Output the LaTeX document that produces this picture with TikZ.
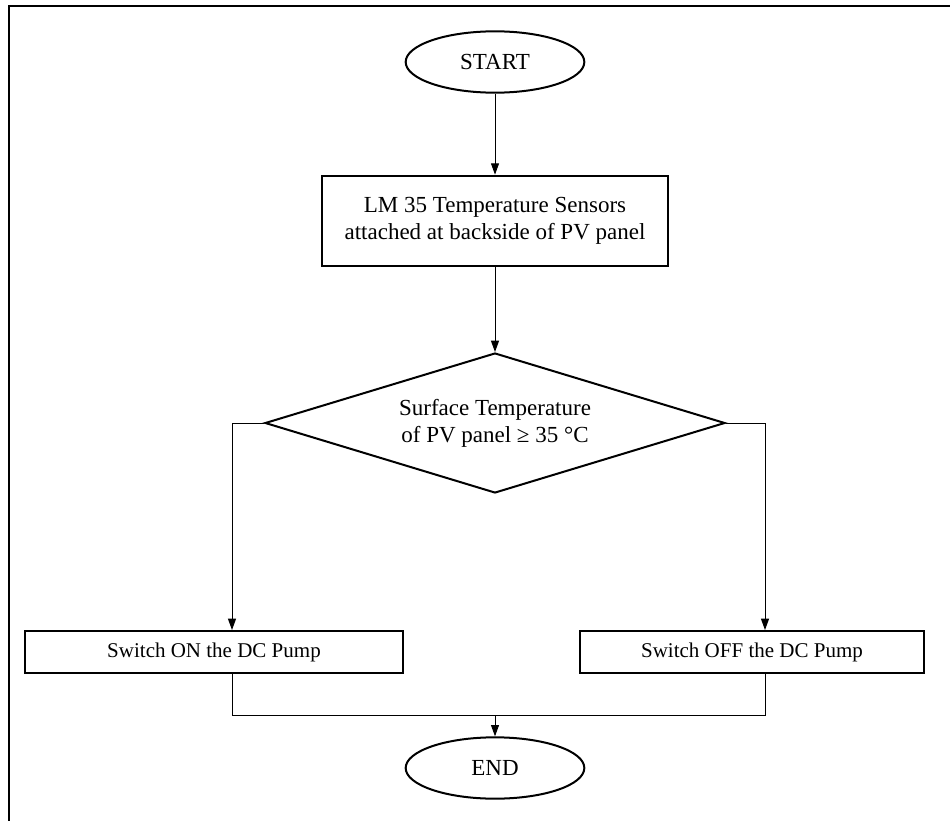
\documentclass[tikz,border=0pt]{standalone}
\usepackage{fontspec}
\setmainfont{Liberation Serif}
\usetikzlibrary{shapes.geometric, arrows.meta, positioning}

\tikzset{
  term/.style={ellipse, draw, line width=1.5pt, minimum width=134pt, minimum height=46pt, inner sep=0pt},
  procbox/.style={rectangle, draw, line width=1.5pt, inner sep=0pt, align=center},
  pumpbox/.style={procbox, minimum height=31.5pt, font=\fontsize{15.75}{19}\selectfont},
  decide/.style={diamond, draw, line width=1.5pt, aspect=3.3, inner sep=0pt, minimum width=345pt, minimum height=105pt, align=center},
  flow/.style={line width=0.75pt, -{Triangle[length=8.5pt,width=6pt]}},
  link/.style={line width=0.75pt},
}

\begin{document}
\begin{tikzpicture}[x=0.75pt, y=-0.75pt, font=\fontsize{17.25}{20.25}\selectfont]
\useasboundingbox (0,0) rectangle (950,821);
% outer frame
\draw[line width=1.5pt] (950,6) -- (9,6) -- (9,821);

% terminals and steps
\node[term] (start) at (495,62) {START};
\node[procbox, minimum width=260pt, minimum height=68pt] (sensor) at (495,221) {LM 35 Temperature Sensors\\attached at backside of PV panel};
\node[decide] (check) at (495,423) {Surface Temperature\\of PV panel ≥ 35 °C};
\node[pumpbox, minimum width=284pt] (pumpon) at (214,652) {Switch ON the DC Pump};
\node[pumpbox, minimum width=258pt] (pumpoff) at (752,652) {Switch OFF the DC Pump};
\node[term] (end) at (495,768) {END};

% branch points
\coordinate (lcol) at (232,423);
\coordinate (rcol) at (765,423);
\coordinate (join) at (495,715);

\draw[flow] (start) -- (sensor);
\draw[flow] (sensor) -- (check);
\draw[flow] (check.west) -| (lcol |- pumpon.north);
\draw[flow] (check.east) -| (rcol |- pumpoff.north);
\draw[link] (lcol |- pumpon.south) |- (join);
\draw[link] (rcol |- pumpoff.south) |- (join);
\draw[flow] (join) -- (end);
\end{tikzpicture}
\end{document}
